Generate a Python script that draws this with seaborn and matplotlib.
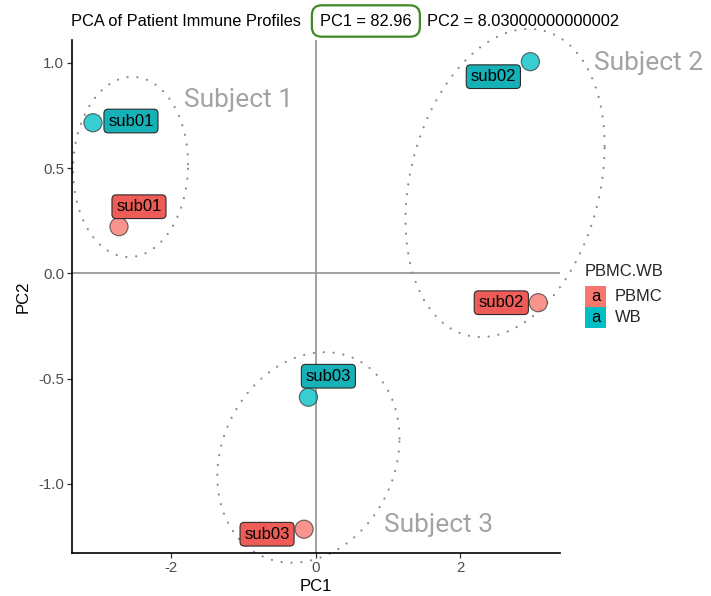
import numpy as np
import pandas as pd
import matplotlib
matplotlib.use("Agg")
import matplotlib.pyplot as plt
import seaborn as sns
from matplotlib.patches import Rectangle

# ---------------- data ----------------
sample = ["sub01", "sub01", "sub02", "sub02", "sub03", "sub03"]
tissue = ["WB", "PBMC", "WB", "PBMC", "WB", "PBMC"]
pc1 = [-3.08, -2.72, 2.97, 3.08, -0.10, -0.16]
pc2 = [0.716, 0.222, 1.006, -0.139, -0.588, -1.215]

categories = ["PBMC", "WB"]
subjects = ["Subject 1", "Subject 2", "Subject 3"]
ell_cx = [-2.56, 2.62, -0.10]
ell_cy = [0.506, 0.43, -0.874]
ell_rx = [0.796, 1.377, 1.26]
ell_ry = [0.428, 0.732, 0.50]
ell_rho = [0.03, 0.24, 0.18]
subj_lx = [-1.07, 4.60, 1.695]
subj_ly = [0.824, 1.00, -1.195]

pc1_var = 82.96
pc2_var = 8.03000000000002

xticks = [-2, 0, 2]
yticks = [-1.0, -0.5, 0.0, 0.5, 1.0]

# label offsets (pixels, y downward) -- layout only
label_off = [(38, -1.7), (20, -20), (-37, 15), (-37, 0), (20, -21), (-37, 5)]

# ---------------- style ----------------
sns.set_theme(style="white")
plt.rcParams["font.family"] = ["Liberation Sans", "DejaVu Sans"]

W, H = 711, 596
fig = plt.figure(figsize=(W / 100, H / 100), dpi=100)
ax = fig.add_axes([72 / W, 1 - 553 / H, (560 - 72) / W, (553 - 40) / H])

point_col = {"PBMC": "#F8766D", "WB": "#00BFC4"}
label_col = {"PBMC": "#EE5C57", "WB": "#16B1B7"}

df = pd.DataFrame({"sample": sample, "PBMC.WB": tissue, "PC1": pc1, "PC2": pc2})

ax.axhline(0, color="#9a9a9a", lw=1.3, zorder=1)
ax.axvline(0, color="#9a9a9a", lw=1.3, zorder=1)

# ellipses
t = np.linspace(0, 2 * np.pi, 400)
for cx, cy, rx, ry, rho in zip(ell_cx, ell_cy, ell_rx, ell_ry, ell_rho):
    ex = cx + rx * np.cos(t)
    ey = cy + ry * (rho * np.cos(t) + np.sqrt(1 - rho ** 2) * np.sin(t))
    ax.plot(ex, ey, color="#8a8a8a", lw=1.6, linestyle=(0, (0.05, 4.4)),
            dash_capstyle="round", zorder=2, clip_on=False)

for s, x, y in zip(subjects, subj_lx, subj_ly):
    ax.text(x, y, s, color="#a3a3a3", fontsize=19, ha="center", va="center",
            family=["Roboto", "DejaVu Sans"], clip_on=False, zorder=3)

sns.scatterplot(data=df, x="PC1", y="PC2", hue="PBMC.WB", palette=point_col,
                s=170, alpha=0.78, edgecolor="#3a3a3a", linewidth=0.8,
                legend=False, zorder=5, ax=ax)

for (name, tis, x, y), (dx, dy) in zip(zip(sample, tissue, pc1, pc2), label_off):
    ax.annotate(name, xy=(x, y), xytext=(dx * 0.72, -dy * 0.72),
                textcoords="offset points", ha="center", va="center",
                fontsize=12, color="black", zorder=6,
                bbox=dict(boxstyle="round,pad=0.26,rounding_size=0.25",
                          fc=label_col[tis], ec="#2b2b2b", lw=0.8))

ax.set_xlim(-3.37, 3.38)
ax.set_ylim(-1.328, 1.109)
ax.set_xticks(xticks)
ax.set_yticks(yticks)
ax.set_xticklabels([f"{v:d}" for v in xticks])
ax.set_yticklabels([f"{v:.1f}" for v in yticks])
ax.tick_params(axis="both", length=3.5, width=0.9, color="#333333",
               labelsize=10.8, labelcolor="#4d4d4d", pad=2, bottom=True, left=True)
for side in ["top", "right"]:
    ax.spines[side].set_visible(False)
for side in ["left", "bottom"]:
    ax.spines[side].set_color("black")
    ax.spines[side].set_linewidth(1.2)
ax.set_xlabel("PC1", fontsize=12, color="black", labelpad=3)
ax.set_ylabel("PC2", fontsize=12, color="black", labelpad=6)
ax.grid(False)

# ---------------- title ----------------
fig.canvas.draw()
r = fig.canvas.get_renderer()
ty = 1 - 21 / H
fs = 11.8
t1 = fig.text(71 / W, ty, "PCA of Patient Immune Profiles", fontsize=fs,
              va="center", ha="left", color="black")
bb1 = t1.get_window_extent(r)
padpx = 0.5 * fs * 100 / 72
t2 = fig.text((bb1.x1 + 11 + padpx) / W, ty, f"PC1 = {pc1_var}", fontsize=fs,
              va="center", ha="left", color="black",
              bbox=dict(boxstyle="round,pad=0.5,rounding_size=0.6",
                        fc="white", ec="#3f8a25", lw=1.6))
bb2 = t2.get_window_extent(r)
t3 = fig.text((bb2.x1 + padpx + 7) / W, ty, f"PC2 = {pc2_var}", fontsize=fs,
              va="center", ha="left", color="black")

# ---------------- legend ----------------
fig.text(585 / W, 1 - 271 / H, "PBMC.WB", fontsize=11.9, va="center", ha="left")
for i, c in enumerate(categories):
    y0 = 286 + i * 21
    fig.add_artist(Rectangle((585 / W, 1 - (y0 + 21) / H), 21 / W, 21 / H,
                             transform=fig.transFigure, fc=point_col[c], ec="none"))
    fig.text(595.5 / W, 1 - (y0 + 10.5) / H, "a", fontsize=11.9, va="center",
             ha="center", color="black")
    fig.text(615 / W, 1 - (y0 + 10.5) / H, c, fontsize=11.9, va="center", ha="left")

fig.savefig("out.png", dpi=100)
